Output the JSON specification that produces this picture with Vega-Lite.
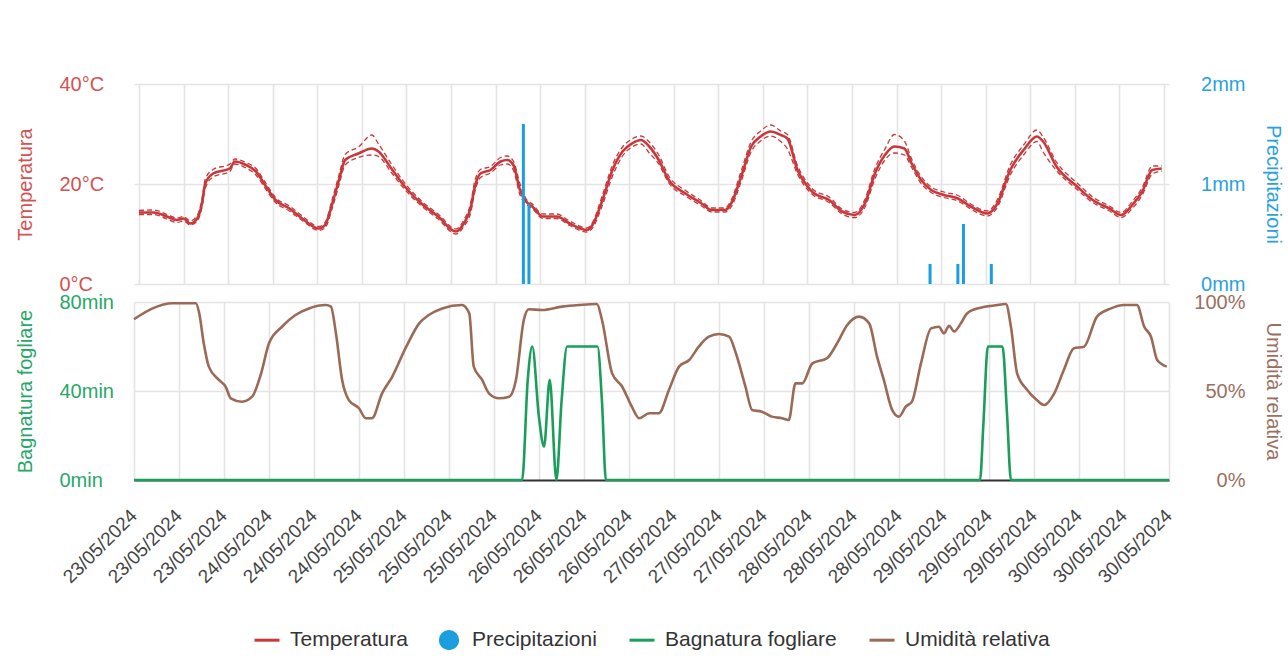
{
  "$schema": "https://vega.github.io/schema/vega-lite/v6.json",
  "background": "white",
  "padding": {"left": 15, "top": 74, "right": 8, "bottom": 0},
  "bounds": "flush",
  "config": {
    "font": "Liberation Sans",
    "view": {"stroke": null},
    "axis": {"gridColor": "#e4e4e4", "gridWidth": 1.6, "labelFontSize": 20, "titleFontSize": 20, "titleFontWeight": "normal", "tickSize": 0, "ticks": false}
  },
  "datasets": {
    "temp": [
      {"t": "2024-05-23T00:00Z", "temp": 14.3, "tmin": 13.9, "tmax": 14.7},
      {"t": "2024-05-23T02:42Z", "temp": 14.3, "tmin": 13.9, "tmax": 14.8},
      {"t": "2024-05-23T05:00Z", "temp": 13.5, "tmin": 13.0, "tmax": 13.9},
      {"t": "2024-05-23T06:48Z", "temp": 12.8, "tmin": 12.3, "tmax": 13.2},
      {"t": "2024-05-23T08:00Z", "temp": 13.1, "tmin": 12.6, "tmax": 13.5},
      {"t": "2024-05-23T09:12Z", "temp": 12.1, "tmin": 11.8, "tmax": 12.6},
      {"t": "2024-05-23T10:24Z", "temp": 13.0, "tmin": 12.5, "tmax": 13.6},
      {"t": "2024-05-23T11:18Z", "temp": 16.1, "tmin": 15.3, "tmax": 16.9},
      {"t": "2024-05-23T11:54Z", "temp": 20.1, "tmin": 19.2, "tmax": 21.0},
      {"t": "2024-05-23T13:18Z", "temp": 22.1, "tmin": 21.4, "tmax": 22.9},
      {"t": "2024-05-23T16:18Z", "temp": 23.1, "tmin": 22.5, "tmax": 24.0},
      {"t": "2024-05-23T17:12Z", "temp": 24.5, "tmin": 24.0, "tmax": 25.0},
      {"t": "2024-05-23T19:12Z", "temp": 23.8, "tmin": 23.2, "tmax": 24.3},
      {"t": "2024-05-23T21:00Z", "temp": 22.5, "tmin": 21.8, "tmax": 23.1},
      {"t": "2024-05-23T22:48Z", "temp": 19.5, "tmin": 18.9, "tmax": 20.1},
      {"t": "2024-05-24T00:30Z", "temp": 16.8, "tmin": 16.3, "tmax": 17.3},
      {"t": "2024-05-24T03:00Z", "temp": 15.1, "tmin": 14.6, "tmax": 15.6},
      {"t": "2024-05-24T05:18Z", "temp": 13.1, "tmin": 12.7, "tmax": 13.6},
      {"t": "2024-05-24T08:18Z", "temp": 11.1, "tmin": 10.7, "tmax": 11.5},
      {"t": "2024-05-24T09:24Z", "temp": 11.8, "tmin": 11.2, "tmax": 12.3},
      {"t": "2024-05-24T10:42Z", "temp": 16.1, "tmin": 15.2, "tmax": 17.0},
      {"t": "2024-05-24T11:54Z", "temp": 20.8, "tmin": 19.8, "tmax": 21.8},
      {"t": "2024-05-24T13:00Z", "temp": 24.8, "tmin": 23.8, "tmax": 25.9},
      {"t": "2024-05-24T15:24Z", "temp": 26.1, "tmin": 25.3, "tmax": 27.4},
      {"t": "2024-05-24T17:48Z", "temp": 27.1, "tmin": 25.8, "tmax": 29.8},
      {"t": "2024-05-24T19:00Z", "temp": 26.5, "tmin": 25.5, "tmax": 28.0},
      {"t": "2024-05-24T21:18Z", "temp": 23.1, "tmin": 22.3, "tmax": 24.0},
      {"t": "2024-05-24T23:42Z", "temp": 19.5, "tmin": 18.9, "tmax": 20.2},
      {"t": "2024-05-25T02:42Z", "temp": 16.1, "tmin": 15.6, "tmax": 16.6},
      {"t": "2024-05-25T05:42Z", "temp": 13.5, "tmin": 13.0, "tmax": 14.0},
      {"t": "2024-05-25T08:54Z", "temp": 10.5, "tmin": 10.0, "tmax": 11.0},
      {"t": "2024-05-25T10:18Z", "temp": 12.1, "tmin": 11.5, "tmax": 12.8},
      {"t": "2024-05-25T11:36Z", "temp": 15.5, "tmin": 14.5, "tmax": 16.5},
      {"t": "2024-05-25T12:12Z", "temp": 19.0, "tmin": 18.0, "tmax": 20.2},
      {"t": "2024-05-25T13:18Z", "temp": 22.1, "tmin": 21.3, "tmax": 22.9},
      {"t": "2024-05-25T15:06Z", "temp": 22.8, "tmin": 22.2, "tmax": 23.5},
      {"t": "2024-05-25T16:54Z", "temp": 24.5, "tmin": 23.8, "tmax": 25.3},
      {"t": "2024-05-25T18:06Z", "temp": 24.8, "tmin": 24.0, "tmax": 25.6},
      {"t": "2024-05-25T19:12Z", "temp": 23.8, "tmin": 22.8, "tmax": 24.6},
      {"t": "2024-05-25T20:24Z", "temp": 18.8, "tmin": 17.8, "tmax": 20.0},
      {"t": "2024-05-25T21:30Z", "temp": 16.5, "tmin": 16.0, "tmax": 17.0},
      {"t": "2024-05-25T22:36Z", "temp": 15.5, "tmin": 15.1, "tmax": 16.0},
      {"t": "2024-05-26T00:30Z", "temp": 13.5, "tmin": 13.1, "tmax": 14.0},
      {"t": "2024-05-26T03:00Z", "temp": 13.5, "tmin": 13.1, "tmax": 14.0},
      {"t": "2024-05-26T05:18Z", "temp": 12.1, "tmin": 11.7, "tmax": 12.6},
      {"t": "2024-05-26T08:24Z", "temp": 10.8, "tmin": 10.4, "tmax": 11.2},
      {"t": "2024-05-26T09:24Z", "temp": 11.8, "tmin": 11.2, "tmax": 12.3},
      {"t": "2024-05-26T11:12Z", "temp": 16.8, "tmin": 15.8, "tmax": 17.8},
      {"t": "2024-05-26T13:00Z", "temp": 22.8, "tmin": 21.6, "tmax": 23.8},
      {"t": "2024-05-26T14:48Z", "temp": 26.5, "tmin": 25.6, "tmax": 27.4},
      {"t": "2024-05-26T16:30Z", "temp": 28.1, "tmin": 27.4, "tmax": 29.0},
      {"t": "2024-05-26T18:06Z", "temp": 28.8, "tmin": 28.0, "tmax": 29.6},
      {"t": "2024-05-26T19:36Z", "temp": 27.5, "tmin": 26.2, "tmax": 28.4},
      {"t": "2024-05-26T21:18Z", "temp": 24.8, "tmin": 24.0, "tmax": 25.8},
      {"t": "2024-05-26T23:06Z", "temp": 20.8, "tmin": 20.2, "tmax": 21.6},
      {"t": "2024-05-27T02:06Z", "temp": 18.1, "tmin": 17.6, "tmax": 18.7},
      {"t": "2024-05-27T05:00Z", "temp": 16.1, "tmin": 15.6, "tmax": 16.6},
      {"t": "2024-05-27T06:48Z", "temp": 14.8, "tmin": 14.4, "tmax": 15.2},
      {"t": "2024-05-27T09:12Z", "temp": 14.8, "tmin": 14.4, "tmax": 15.2},
      {"t": "2024-05-27T10:18Z", "temp": 16.1, "tmin": 15.4, "tmax": 16.8},
      {"t": "2024-05-27T12:06Z", "temp": 21.5, "tmin": 20.5, "tmax": 22.6},
      {"t": "2024-05-27T13:54Z", "temp": 27.5, "tmin": 26.5, "tmax": 28.5},
      {"t": "2024-05-27T15:36Z", "temp": 29.5, "tmin": 28.6, "tmax": 30.6},
      {"t": "2024-05-27T17:24Z", "temp": 30.5, "tmin": 29.6, "tmax": 31.8},
      {"t": "2024-05-27T19:12Z", "temp": 29.8, "tmin": 28.5, "tmax": 30.6},
      {"t": "2024-05-27T20:24Z", "temp": 29.1, "tmin": 27.0, "tmax": 29.9},
      {"t": "2024-05-27T22:12Z", "temp": 22.8, "tmin": 22.0, "tmax": 23.7},
      {"t": "2024-05-28T00:00Z", "temp": 19.5, "tmin": 18.9, "tmax": 20.2},
      {"t": "2024-05-28T01:00Z", "temp": 18.3, "tmin": 17.8, "tmax": 18.9},
      {"t": "2024-05-28T03:54Z", "temp": 16.8, "tmin": 16.3, "tmax": 17.4},
      {"t": "2024-05-28T06:12Z", "temp": 14.5, "tmin": 14.0, "tmax": 15.0},
      {"t": "2024-05-28T08:30Z", "temp": 13.8, "tmin": 13.3, "tmax": 14.3},
      {"t": "2024-05-28T10:18Z", "temp": 16.1, "tmin": 15.3, "tmax": 16.9},
      {"t": "2024-05-28T12:06Z", "temp": 22.1, "tmin": 21.0, "tmax": 23.1},
      {"t": "2024-05-28T13:54Z", "temp": 25.8, "tmin": 24.8, "tmax": 27.0},
      {"t": "2024-05-28T15:36Z", "temp": 27.5, "tmin": 26.2, "tmax": 29.9},
      {"t": "2024-05-28T17:24Z", "temp": 27.1, "tmin": 25.8, "tmax": 28.6},
      {"t": "2024-05-28T18:42Z", "temp": 24.1, "tmin": 23.3, "tmax": 25.0},
      {"t": "2024-05-28T20:24Z", "temp": 20.8, "tmin": 20.1, "tmax": 21.5},
      {"t": "2024-05-28T22:12Z", "temp": 18.8, "tmin": 18.3, "tmax": 19.4},
      {"t": "2024-05-29T00:30Z", "temp": 17.8, "tmin": 17.3, "tmax": 18.4},
      {"t": "2024-05-29T03:00Z", "temp": 17.1, "tmin": 16.6, "tmax": 17.7},
      {"t": "2024-05-29T05:18Z", "temp": 15.5, "tmin": 15.0, "tmax": 16.0},
      {"t": "2024-05-29T08:18Z", "temp": 14.1, "tmin": 13.6, "tmax": 14.6},
      {"t": "2024-05-29T10:06Z", "temp": 16.1, "tmin": 15.4, "tmax": 16.9},
      {"t": "2024-05-29T12:24Z", "temp": 22.8, "tmin": 21.8, "tmax": 23.8},
      {"t": "2024-05-29T14:48Z", "temp": 26.8, "tmin": 25.8, "tmax": 27.8},
      {"t": "2024-05-29T17:12Z", "temp": 29.5, "tmin": 28.5, "tmax": 30.8},
      {"t": "2024-05-29T18:18Z", "temp": 28.5, "tmin": 26.4, "tmax": 29.4},
      {"t": "2024-05-29T20:42Z", "temp": 23.5, "tmin": 22.7, "tmax": 24.4},
      {"t": "2024-05-30T00:24Z", "temp": 19.5, "tmin": 18.9, "tmax": 20.2},
      {"t": "2024-05-30T03:12Z", "temp": 16.8, "tmin": 16.3, "tmax": 17.4},
      {"t": "2024-05-30T06:12Z", "temp": 15.1, "tmin": 14.6, "tmax": 15.6},
      {"t": "2024-05-30T08:18Z", "temp": 13.8, "tmin": 13.3, "tmax": 14.3},
      {"t": "2024-05-30T10:18Z", "temp": 15.8, "tmin": 15.1, "tmax": 16.5},
      {"t": "2024-05-30T12:06Z", "temp": 18.5, "tmin": 17.8, "tmax": 19.3},
      {"t": "2024-05-30T13:54Z", "temp": 22.8, "tmin": 22.0, "tmax": 23.6},
      {"t": "2024-05-30T15:36Z", "temp": 23.1, "tmin": 22.6, "tmax": 23.6}
    ],
    "rain": [
      {"t": "2024-05-25T21:00Z", "rain": 1.6},
      {"t": "2024-05-25T22:00Z", "rain": 0.8},
      {"t": "2024-05-28T22:00Z", "rain": 0.2},
      {"t": "2024-05-29T03:00Z", "rain": 0.2},
      {"t": "2024-05-29T04:00Z", "rain": 0.6},
      {"t": "2024-05-29T09:00Z", "rain": 0.2}
    ],
    "hum": [
      {"t": "2024-05-23T00:00Z", "hum": 90.3},
      {"t": "2024-05-23T03:18Z", "hum": 96.4},
      {"t": "2024-05-23T06:48Z", "hum": 99.3},
      {"t": "2024-05-23T11:00Z", "hum": 99.3},
      {"t": "2024-05-23T11:36Z", "hum": 93.6},
      {"t": "2024-05-23T12:24Z", "hum": 76.8},
      {"t": "2024-05-23T13:18Z", "hum": 63.7},
      {"t": "2024-05-23T15:06Z", "hum": 56.2},
      {"t": "2024-05-23T16:18Z", "hum": 52.4},
      {"t": "2024-05-23T17:12Z", "hum": 45.9},
      {"t": "2024-05-23T19:12Z", "hum": 44.0},
      {"t": "2024-05-23T21:00Z", "hum": 46.8},
      {"t": "2024-05-23T22:36Z", "hum": 59.9},
      {"t": "2024-05-24T00:00Z", "hum": 76.8},
      {"t": "2024-05-24T02:18Z", "hum": 86.1},
      {"t": "2024-05-24T04:42Z", "hum": 92.7},
      {"t": "2024-05-24T07:06Z", "hum": 96.4},
      {"t": "2024-05-24T10:06Z", "hum": 98.3},
      {"t": "2024-05-24T11:00Z", "hum": 97.4},
      {"t": "2024-05-24T11:54Z", "hum": 82.4},
      {"t": "2024-05-24T13:00Z", "hum": 56.2},
      {"t": "2024-05-24T14:12Z", "hum": 44.9},
      {"t": "2024-05-24T16:00Z", "hum": 40.3},
      {"t": "2024-05-24T17:12Z", "hum": 34.7},
      {"t": "2024-05-24T18:18Z", "hum": 34.7},
      {"t": "2024-05-24T20:06Z", "hum": 48.7},
      {"t": "2024-05-24T21:54Z", "hum": 58.0},
      {"t": "2024-05-25T00:24Z", "hum": 74.9},
      {"t": "2024-05-25T02:42Z", "hum": 88.0},
      {"t": "2024-05-25T04:24Z", "hum": 92.7},
      {"t": "2024-05-25T06:48Z", "hum": 96.4},
      {"t": "2024-05-25T10:18Z", "hum": 98.3},
      {"t": "2024-05-25T11:36Z", "hum": 93.6},
      {"t": "2024-05-25T12:24Z", "hum": 63.7},
      {"t": "2024-05-25T13:54Z", "hum": 56.2},
      {"t": "2024-05-25T15:06Z", "hum": 48.7},
      {"t": "2024-05-25T16:54Z", "hum": 45.9},
      {"t": "2024-05-25T18:42Z", "hum": 46.8},
      {"t": "2024-05-25T19:54Z", "hum": 56.2},
      {"t": "2024-05-25T21:18Z", "hum": 89.9},
      {"t": "2024-05-25T22:12Z", "hum": 95.9},
      {"t": "2024-05-26T00:30Z", "hum": 95.5},
      {"t": "2024-05-26T04:06Z", "hum": 97.4},
      {"t": "2024-05-26T07:06Z", "hum": 98.3},
      {"t": "2024-05-26T10:18Z", "hum": 98.9},
      {"t": "2024-05-26T11:12Z", "hum": 89.9},
      {"t": "2024-05-26T13:00Z", "hum": 59.9},
      {"t": "2024-05-26T14:48Z", "hum": 52.4},
      {"t": "2024-05-26T16:30Z", "hum": 41.2},
      {"t": "2024-05-26T17:48Z", "hum": 34.7},
      {"t": "2024-05-26T19:36Z", "hum": 37.5},
      {"t": "2024-05-26T21:18Z", "hum": 37.5},
      {"t": "2024-05-26T23:06Z", "hum": 50.6},
      {"t": "2024-05-27T00:54Z", "hum": 63.7},
      {"t": "2024-05-27T02:42Z", "hum": 67.4},
      {"t": "2024-05-27T04:24Z", "hum": 74.9},
      {"t": "2024-05-27T06:12Z", "hum": 80.5},
      {"t": "2024-05-27T08:00Z", "hum": 82.0},
      {"t": "2024-05-27T09:48Z", "hum": 80.5},
      {"t": "2024-05-27T11:00Z", "hum": 71.2},
      {"t": "2024-05-27T12:42Z", "hum": 52.4},
      {"t": "2024-05-27T13:54Z", "hum": 39.3},
      {"t": "2024-05-27T15:36Z", "hum": 38.4},
      {"t": "2024-05-27T17:24Z", "hum": 35.6},
      {"t": "2024-05-27T19:12Z", "hum": 34.7},
      {"t": "2024-05-27T20:24Z", "hum": 33.7},
      {"t": "2024-05-27T21:36Z", "hum": 54.3},
      {"t": "2024-05-27T22:48Z", "hum": 54.3},
      {"t": "2024-05-28T00:36Z", "hum": 65.5},
      {"t": "2024-05-28T03:12Z", "hum": 68.4},
      {"t": "2024-05-28T05:00Z", "hum": 76.8},
      {"t": "2024-05-28T06:48Z", "hum": 87.1},
      {"t": "2024-05-28T08:54Z", "hum": 91.8},
      {"t": "2024-05-28T10:42Z", "hum": 88.0},
      {"t": "2024-05-28T12:06Z", "hum": 69.3},
      {"t": "2024-05-28T13:18Z", "hum": 56.2},
      {"t": "2024-05-28T14:48Z", "hum": 39.3},
      {"t": "2024-05-28T16:00Z", "hum": 35.6},
      {"t": "2024-05-28T17:12Z", "hum": 41.2},
      {"t": "2024-05-28T18:18Z", "hum": 44.0},
      {"t": "2024-05-28T19:54Z", "hum": 65.5},
      {"t": "2024-05-28T21:42Z", "hum": 85.2},
      {"t": "2024-05-28T23:06Z", "hum": 86.1},
      {"t": "2024-05-29T00:00Z", "hum": 82.4},
      {"t": "2024-05-29T00:54Z", "hum": 86.6},
      {"t": "2024-05-29T01:48Z", "hum": 83.4},
      {"t": "2024-05-29T03:00Z", "hum": 88.0},
      {"t": "2024-05-29T04:06Z", "hum": 93.6},
      {"t": "2024-05-29T06:30Z", "hum": 96.8},
      {"t": "2024-05-29T08:54Z", "hum": 98.0},
      {"t": "2024-05-29T11:00Z", "hum": 98.9},
      {"t": "2024-05-29T11:54Z", "hum": 86.1},
      {"t": "2024-05-29T13:00Z", "hum": 59.9},
      {"t": "2024-05-29T14:48Z", "hum": 50.6},
      {"t": "2024-05-29T16:30Z", "hum": 44.9},
      {"t": "2024-05-29T17:48Z", "hum": 42.1},
      {"t": "2024-05-29T19:36Z", "hum": 48.7},
      {"t": "2024-05-29T21:18Z", "hum": 61.8},
      {"t": "2024-05-29T23:06Z", "hum": 74.0},
      {"t": "2024-05-30T00:54Z", "hum": 74.9},
      {"t": "2024-05-30T03:12Z", "hum": 91.8},
      {"t": "2024-05-30T05:42Z", "hum": 96.4},
      {"t": "2024-05-30T08:00Z", "hum": 98.3},
      {"t": "2024-05-30T10:18Z", "hum": 98.3},
      {"t": "2024-05-30T11:36Z", "hum": 86.1},
      {"t": "2024-05-30T12:48Z", "hum": 80.5},
      {"t": "2024-05-30T13:54Z", "hum": 67.4},
      {"t": "2024-05-30T15:36Z", "hum": 63.7}
    ],
    "wet": [
      {"t": "2024-05-23T00:00Z", "wet": 0},
      {"t": "2024-05-25T21:00Z", "wet": 0},
      {"t": "2024-05-25T22:00Z", "wet": 45},
      {"t": "2024-05-25T22:48Z", "wet": 60},
      {"t": "2024-05-26T00:00Z", "wet": 28},
      {"t": "2024-05-26T00:54Z", "wet": 15},
      {"t": "2024-05-26T01:54Z", "wet": 45},
      {"t": "2024-05-26T03:06Z", "wet": 0},
      {"t": "2024-05-26T04:00Z", "wet": 35},
      {"t": "2024-05-26T05:00Z", "wet": 60},
      {"t": "2024-05-26T10:24Z", "wet": 60},
      {"t": "2024-05-26T11:12Z", "wet": 35},
      {"t": "2024-05-26T11:54Z", "wet": 0},
      {"t": "2024-05-29T06:24Z", "wet": 0},
      {"t": "2024-05-29T07:00Z", "wet": 25},
      {"t": "2024-05-29T07:48Z", "wet": 60},
      {"t": "2024-05-29T10:24Z", "wet": 60},
      {"t": "2024-05-29T11:12Z", "wet": 30},
      {"t": "2024-05-29T11:54Z", "wet": 0},
      {"t": "2024-05-30T16:00Z", "wet": 0}
    ]
  },
  "spacing": 18,
  "vconcat": [
    {
      "width": 1035,
      "height": 200,
      "layer": [
        {
          "data": {"name": "temp"},
          "layer": [
            {
              "mark": {"type": "line", "color": "#c8383b", "strokeWidth": 1.3, "strokeDash": [5, 3], "interpolate": "monotone"},
              "encoding": {
                "x": {"field": "t", "type": "temporal", "title": null,
                  "scale": {"type": "utc", "domain": [1716422400000, 1717084800000]},
                  "axis": {"labels": false, "domain": false, "ticks": false, "grid": true,
                    "values": [1716422400000, 1716451200000, 1716480000000, 1716508800000, 1716537600000, 1716566400000, 1716595200000, 1716624000000, 1716652800000, 1716681600000, 1716710400000, 1716739200000, 1716768000000, 1716796800000, 1716825600000, 1716854400000, 1716883200000, 1716912000000, 1716940800000, 1716969600000, 1716998400000, 1717027200000, 1717056000000, 1717084800000]}},
                "y": {"field": "tmax", "type": "quantitative", "title": "Temperatura",
                  "scale": {"domain": [0, 40], "nice": false},
                  "axis": {"orient": "left", "values": [0, 20, 40], "labelExpr": "datum.value + '°C'", "labelColor": "#d45252", "titleColor": "#d45252", "labelAlign": "left", "labelPadding": 75, "titlePadding": 24, "domain": false, "grid": true}}
              }
            },
            {
              "mark": {"type": "line", "color": "#c8383b", "strokeWidth": 1.3, "strokeDash": [5, 3], "interpolate": "monotone"},
              "encoding": {
                "x": {"field": "t", "type": "temporal"},
                "y": {"field": "tmin", "type": "quantitative", "title": "Temperatura"}
              }
            },
            {
              "mark": {"type": "line", "strokeWidth": 2.6, "interpolate": "monotone"},
              "encoding": {
                "x": {"field": "t", "type": "temporal"},
                "y": {"field": "temp", "type": "quantitative", "title": "Temperatura"},
                "color": {"datum": "Temperatura",
                  "scale": {"domain": ["Temperatura", "Precipitazioni", "Bagnatura fogliare", "Umidità relativa"], "range": ["#c8383b", "#1a9ee0", "#1a9e5c", "#9b6a56"]},
                  "legend": {
                    "orient": "none", "legendX": 119, "legendY": 542, "direction": "horizontal", "columns": 4, "title": null,
                    "labelFontSize": 21, "labelColor": "#333333", "labelLimit": 0, "symbolSize": 625, "symbolStrokeWidth": 3, "columnPadding": 26, "labelOffset": 9,
                    "encode": {"symbols": {"update": {
                      "shape": {"signal": "datum.value === 'Precipitazioni' ? 'circle' : 'M-1,-0.69M-1,0H1M1,0.69'"},
                      "size": {"signal": "datum.value === 'Precipitazioni' ? 300 : 625"},
                      "fill": {"signal": "datum.value === 'Precipitazioni' ? scale('color', datum.value) : 'transparent'"},
                      "stroke": {"signal": "datum.value === 'Precipitazioni' ? 'transparent' : scale('color', datum.value)"},
                      "strokeWidth": {"value": 3}
                    }}}
                  }}
              }
            }
          ]
        },
        {
          "data": {"name": "rain"},
          "mark": {"type": "bar", "size": 3},
          "encoding": {
            "x": {"field": "t", "type": "temporal"},
            "y": {"field": "rain", "type": "quantitative", "title": "Precipitazioni",
              "scale": {"domain": [0, 2], "nice": false},
              "axis": {"orient": "right", "values": [0, 1, 2], "labelExpr": "datum.value + 'mm'", "labelColor": "#29a3dd", "titleColor": "#29a3dd", "labelAlign": "right", "labelPadding": 76, "titlePadding": 17, "domain": false, "grid": false}},
            "color": {"datum": "Precipitazioni"}
          }
        }
      ],
      "resolve": {"scale": {"y": "independent"}}
    },
    {
      "width": 1035,
      "height": 178,
      "layer": [
        {
          "data": {"name": "wet"},
          "mark": {"type": "line", "strokeWidth": 2.6, "interpolate": "monotone"},
          "encoding": {
            "x": {"field": "t", "type": "temporal", "title": null,
              "scale": {"type": "utc", "domain": [1716422400000, 1717084800000]},
              "axis": {"format": "%d/%m/%Y", "labelAngle": -45, "labelAlign": "right", "labelBaseline": "top", "labelFontSize": 19, "labelColor": "#444444", "labelPadding": 26, "labelOffset": -7, "labelOverlap": false, "labelFlush": false, "domain": true, "domainColor": "#333333", "domainWidth": 2, "grid": true,
                "values": [1716422400000, 1716451200000, 1716480000000, 1716508800000, 1716537600000, 1716566400000, 1716595200000, 1716624000000, 1716652800000, 1716681600000, 1716710400000, 1716739200000, 1716768000000, 1716796800000, 1716825600000, 1716854400000, 1716883200000, 1716912000000, 1716940800000, 1716969600000, 1716998400000, 1717027200000, 1717056000000, 1717084800000]}},
            "y": {"field": "wet", "type": "quantitative", "title": "Bagnatura fogliare",
              "scale": {"domain": [0, 80], "nice": false},
              "axis": {"orient": "left", "values": [0, 40, 80], "labelExpr": "datum.value + 'min'", "labelColor": "#27a868", "titleColor": "#27a868", "labelAlign": "left", "labelPadding": 75, "titlePadding": 24, "domain": false, "grid": true}},
            "color": {"datum": "Bagnatura fogliare"}
          }
        },
        {
          "data": {"name": "hum"},
          "mark": {"type": "line", "strokeWidth": 2.6, "interpolate": "monotone"},
          "encoding": {
            "x": {"field": "t", "type": "temporal"},
            "y": {"field": "hum", "type": "quantitative", "title": "Umidità relativa",
              "scale": {"domain": [0, 100], "nice": false},
              "axis": {"orient": "right", "values": [0, 50, 100], "labelExpr": "datum.value + '%'", "labelColor": "#9c7060", "titleColor": "#9c7060", "labelAlign": "right", "labelPadding": 76, "titlePadding": 17, "domain": false, "grid": false}},
            "color": {"datum": "Umidità relativa"}
          }
        }
      ],
      "resolve": {"scale": {"y": "independent"}}
    }
  ]
}
